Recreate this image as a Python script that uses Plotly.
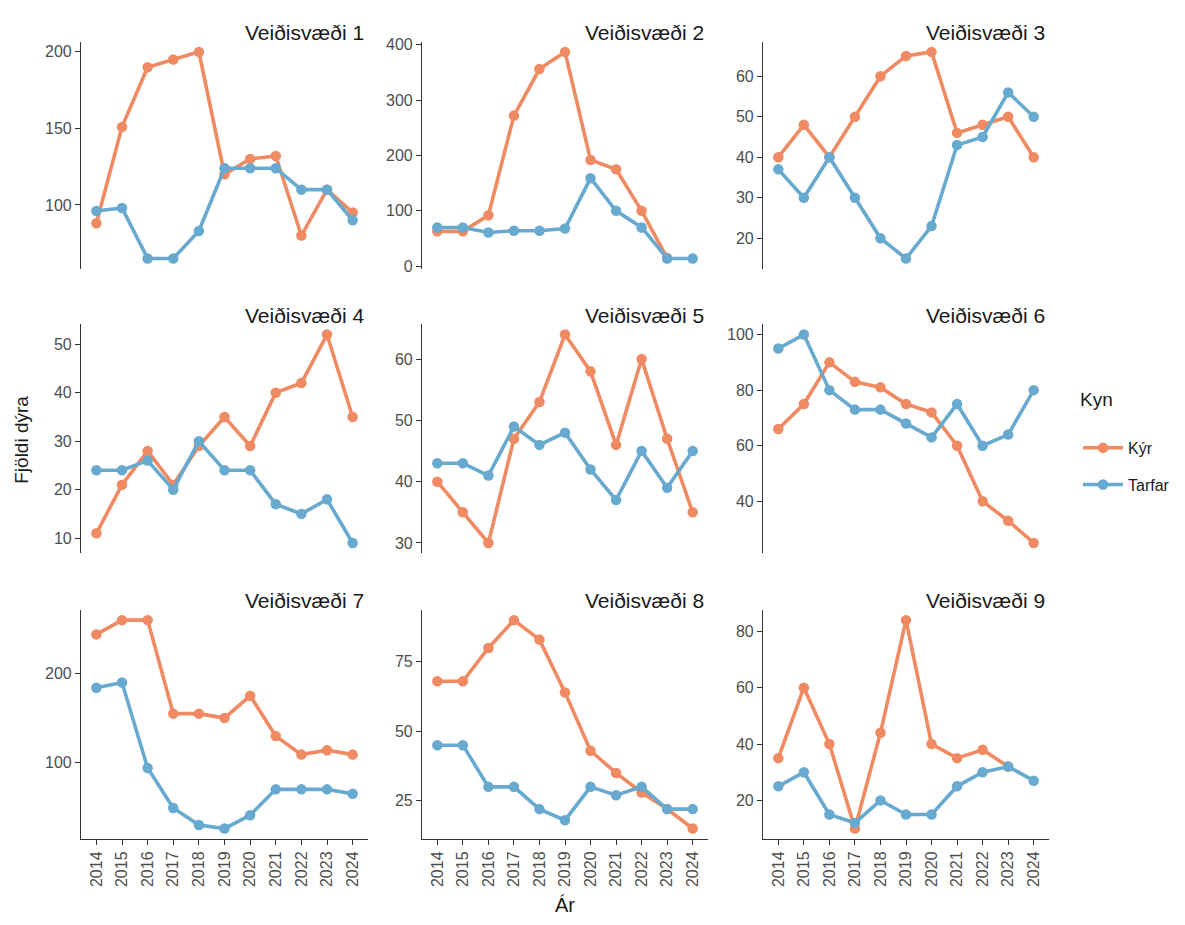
import plotly.graph_objects as go

years = list(range(2014, 2025))
zones = ["Veiðisvæði 1", "Veiðisvæði 2", "Veiðisvæði 3",
         "Veiðisvæði 4", "Veiðisvæði 5", "Veiðisvæði 6",
         "Veiðisvæði 7", "Veiðisvæði 8", "Veiðisvæði 9"]
sexes = ["Kýr", "Tarfar"]

kyr_1 = [88, 151, 190, 195, 200, 120, 130, 132, 80, 110, 95]
tarfar_1 = [96, 98, 65, 65, 83, 124, 124, 124, 110, 110, 90]
kyr_2 = [63, 63, 92, 272, 356, 387, 192, 175, 100, 15, None]
tarfar_2 = [70, 70, 61, 64, 64, 68, 159, 100, 70, 14, 14]
kyr_3 = [40, 48, 40, 50, 60, 65, 66, 46, 48, 50, 40]
tarfar_3 = [37, 30, 40, 30, 20, 15, 23, 43, 45, 56, 50]
kyr_4 = [11, 21, 28, 21, 29, 35, 29, 40, 42, 52, 35]
tarfar_4 = [24, 24, 26, 20, 30, 24, 24, 17, 15, 18, 9]
kyr_5 = [40, 35, 30, 47, 53, 64, 58, 46, 60, 47, 35]
tarfar_5 = [43, 43, 41, 49, 46, 48, 42, 37, 45, 39, 45]
kyr_6 = [66, 75, 90, 83, 81, 75, 72, 60, 40, 33, 25]
tarfar_6 = [95, 100, 80, 73, 73, 68, 63, 75, 60, 64, 80]
kyr_7 = [244, 260, 260, 155, 155, 150, 175, 130, 109, 114, 109]
tarfar_7 = [184, 190, 94, 49, 30, 26, 41, 70, 70, 70, 65]
kyr_8 = [68, 68, 80, 90, 83, 64, 43, 35, 28, 22, 15]
tarfar_8 = [45, 45, 30, 30, 22, 18, 30, 27, 30, 22, 22]
kyr_9 = [35, 60, 40, 10, 44, 84, 40, 35, 38, 32, None]
tarfar_9 = [25, 30, 15, 12, 20, 15, 15, 25, 30, 32, 27]

kyr_all = [kyr_1, kyr_2, kyr_3, kyr_4, kyr_5, kyr_6, kyr_7, kyr_8, kyr_9]
tarfar_all = [tarfar_1, tarfar_2, tarfar_3, tarfar_4, tarfar_5, tarfar_6,
              tarfar_7, tarfar_8, tarfar_9]

# styling
colors = {"Kýr": "#EF8A62", "Tarfar": "#67A9CF"}
ydticks = [50, 100, 10, 10, 10, 20, 100, 25, 20]
FONT = "Liberation Sans, Arial, sans-serif"
W, H = 1185, 925
col_px = [(81, 368), (422, 708), (763, 1049)]
row_px = [(37, 267), (323, 555), (612, 844)]

fig = go.Figure()
for i in range(9):
    r, c = divmod(i, 3)
    ax = "" if i == 0 else str(i + 1)
    for sex, series in zip(sexes, [kyr_all[i], tarfar_all[i]]):
        fig.add_trace(go.Scatter(
            x=years, y=series, mode="lines+markers", name=sex,
            legendgroup=sex, showlegend=(i == 0),
            line=dict(color=colors[sex], width=3.6),
            marker=dict(color=colors[sex], size=10.5),
            xaxis="x" + ax, yaxis="y" + ax,
        ))
    vals = [v for v in kyr_all[i] + tarfar_all[i] if v is not None]
    lo, hi = min(vals), max(vals)
    pad = 0.05 * (hi - lo)
    x0, x1 = col_px[c]
    t0, t1 = row_px[r]
    bottom = r == 2
    fig.layout["xaxis" + ax] = dict(
        domain=[x0 / W, x1 / W], anchor="y" + ax,
        range=[2013.4, 2024.6], tickvals=years, ticktext=[str(y) for y in years],
        tickangle=-90, showline=bottom, linecolor="#333333", linewidth=1.2,
        ticks="outside" if bottom else "", ticklen=5, tickcolor="#333333",
        showticklabels=bottom, showgrid=False, zeroline=False,
        tickfont=dict(family=FONT, size=16, color="#4D4D4D"),
    )
    fig.layout["yaxis" + ax] = dict(
        domain=[1 - t1 / H, 1 - t0 / H], anchor="x" + ax,
        range=[lo - pad, hi + pad], dtick=ydticks[i],
        showline=True, linecolor="#333333", linewidth=1.2,
        ticks="outside", ticklen=5, tickcolor="#333333",
        showgrid=False, zeroline=False,
        tickfont=dict(family=FONT, size=16, color="#4D4D4D"),
    )
    fig.add_annotation(
        text=zones[i], xref="x" + ax + " domain", yref="y" + ax + " domain",
        x=1, y=1, xanchor="right", yanchor="middle", xshift=-2, yshift=9,
        showarrow=False, font=dict(family=FONT, size=21, color="#1A1A1A"),
    )

fig.add_annotation(text="Fjöldi dýra", xref="paper", yref="paper",
                   x=22 / W, y=1 - 440 / H, xanchor="center", yanchor="middle",
                   textangle=-90, showarrow=False,
                   font=dict(family=FONT, size=19, color="#1A1A1A"))
fig.add_annotation(text="Ár", xref="paper", yref="paper",
                   x=565 / W, y=1 - 911 / H, xanchor="center", yanchor="middle",
                   showarrow=False,
                   font=dict(family=FONT, size=20, color="#1A1A1A"))

fig.update_layout(
    width=W, height=H, margin=dict(l=0, r=0, t=0, b=0),
    plot_bgcolor="white", paper_bgcolor="white",
    legend=dict(
        title=dict(text="Kyn<br><span style='font-size:2px'> </span>",
                   font=dict(family=FONT, size=19, color="#1A1A1A")),
        font=dict(family=FONT, size=16, color="#1A1A1A"),
        x=1078 / W, y=1 - 381 / H, xanchor="left", yanchor="top",
        traceorder="grouped", tracegroupgap=13, itemwidth=40,
        bgcolor="rgba(0,0,0,0)",
    ),
)

fig.write_html("out.html", config={"displayModeBar": False},
               post_script="document.body.style.margin='0';")
